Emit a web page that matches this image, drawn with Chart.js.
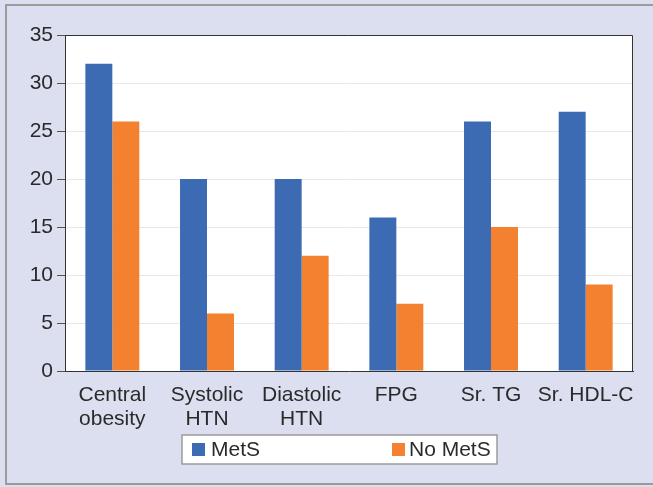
<!DOCTYPE html>
<html>
<head>
<meta charset="utf-8">
<script src="https://cdn.jsdelivr.net/npm/chart.js@4"></script>
<style>
  html, body { margin: 0; padding: 0; background: #dcdff0; }
  #wrap { width: 653px; height: 487px; position: relative; }
  canvas { display: block; }
</style>
</head>
<body>
<div id="wrap"><canvas id="c" width="653" height="487"></canvas></div>
<script>
const categories = [["Central", "obesity"], ["Systolic", "HTN"], ["Diastolic", "HTN"], ["FPG"], ["Sr. TG"], ["Sr. HDL-C"]];
const metsValues = [32, 20, 20, 16, 26, 27];
const noMetsValues = [26, 6, 12, 7, 15, 9];
const seriesNames = ["MetS", "No MetS"];
const yTicks = [0, 5, 10, 15, 20, 25, 30, 35];

const FONT = "'Liberation Sans', Arial, Helvetica, sans-serif";
const BLUE = '#3c6bb4';
const ORANGE = '#f3812f';
const TXT = '#2a2a2a';

const framePlugin = {
  id: 'frame',
  beforeDraw(chart) {
    const ctx = chart.ctx;
    ctx.save();
    ctx.fillStyle = '#dcdff0';
    ctx.fillRect(0, 0, chart.width, chart.height);
    ctx.strokeStyle = '#9b9b9b';
    ctx.lineWidth = 2;
    ctx.beginPath();
    ctx.moveTo(chart.width + 5, 5);
    ctx.lineTo(6, 5);
    ctx.lineTo(6, 484);
    ctx.lineTo(chart.width + 5, 484);
    ctx.stroke();
    const a = chart.chartArea;
    ctx.fillStyle = '#ffffff';
    ctx.fillRect(a.left, a.top, a.right - a.left, a.bottom - a.top);
    ctx.restore();
  },
  afterDraw(chart) {
    const ctx = chart.ctx;
    const a = chart.chartArea;
    ctx.save();
    ctx.strokeStyle = '#333333';
    ctx.lineWidth = 1;
    ctx.beginPath();
    ctx.moveTo(a.left, a.top + 0.5);
    ctx.lineTo(a.right - 0.5, a.top + 0.5);
    ctx.lineTo(a.right - 0.5, a.bottom);
    ctx.stroke();
    // legend
    const lx = 182, ly = 435, lw = 315, lh = 29;
    ctx.fillStyle = '#ffffff';
    ctx.fillRect(lx, ly, lw, lh);
    ctx.strokeStyle = '#9b9b9b';
    ctx.lineWidth = 1.5;
    ctx.strokeRect(lx, ly, lw, lh);
    ctx.font = '21px ' + FONT;
    ctx.textBaseline = 'middle';
    ctx.textAlign = 'left';
    const ds = chart.data.datasets;
    const items = [{x: 192, tx: 211}, {x: 392, tx: 409}];
    ds.forEach((d, i) => {
      ctx.fillStyle = d.backgroundColor;
      ctx.fillRect(items[i].x, ly + 8, 13, 13);
      ctx.fillStyle = TXT;
      ctx.fillText(d.label, items[i].tx, ly + lh / 2 + 1);
    });
    ctx.restore();
  }
};

new Chart(document.getElementById('c'), {
  type: 'bar',
  data: {
    labels: categories,
    datasets: [
      { label: seriesNames[0], data: metsValues, backgroundColor: BLUE },
      { label: seriesNames[1], data: noMetsValues, backgroundColor: ORANGE }
    ]
  },
  options: {
    responsive: false,
    animation: false,
    devicePixelRatio: 1,
    layout: { padding: { left: 0, right: 20, top: 35, bottom: 0 } },
    plugins: { legend: { display: false }, tooltip: { enabled: false } },
    datasets: { bar: { categoryPercentage: 0.57, barPercentage: 1.0 } },
    scales: {
      x: {
        grid: { display: false, drawTicks: false, tickLength: 0 },
        border: { display: true, color: '#333333', width: 1 },
        ticks: { color: TXT, font: { family: FONT, size: 21, lineHeight: 1.14 }, padding: 12, maxRotation: 0, autoSkip: false },
        afterFit(scale) { scale.height = 116; }
      },
      y: {
        min: 0, max: 35,
        afterBuildTicks(scale) { scale.ticks = yTicks.map(v => ({ value: v })); },
        grid: { color: '#e8e8e8', tickColor: '#555555', tickLength: 8, drawTicks: true },
        border: { display: true, color: '#333333', width: 1 },
        ticks: { color: TXT, font: { family: FONT, size: 21 }, padding: 4 },
        afterFit(scale) { scale.width = 65; }
      }
    }
  },
  plugins: [framePlugin]
});
</script>
</body>
</html>
